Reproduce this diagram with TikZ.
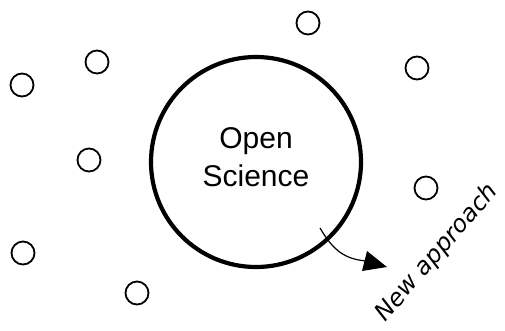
\documentclass[tikz,border=0pt]{standalone}
\usepackage{fontspec}
\setmainfont{Liberation Sans}
\newfontfamily\handfont{DejaVu Sans}
\begin{document}
\begin{tikzpicture}[x=1pt,y=-1pt,
  dot/.style={circle,draw,line width=1.8pt,minimum size=23pt,inner sep=0pt},
  bigc/.style={circle,draw,line width=4.2pt,minimum size=210pt,inner sep=0pt},
  lbl/.style={align=center,font=\fontsize{30}{38}\selectfont},
  hand/.style={font=\handfont\itshape\fontsize{24}{24}\selectfont,rotate=49,inner sep=0pt}]
\useasboundingbox (0,0) rectangle (505,330);
\node[bigc] (os) at (256,162) {};
\node[lbl] (ostext) at (256,157) {Open\\Science};
\node[dot] (d1) at (308,23) {};
\node[dot] (d2) at (97,62) {};
\node[dot] (d3) at (22,85) {};
\node[dot] (d4) at (417,68) {};
\node[dot] (d5) at (89,160) {};
\node[dot] (d6) at (426,188) {};
\node[dot] (d7) at (23,253) {};
\node[dot] (d8) at (137,293) {};
\node[hand] (na) at (437,253) {New approach};
\coordinate (s) at (320,228);
\coordinate (e) at (366,261);
\draw[line width=1.2pt] (s) .. controls (334,252) and (346,259) .. (e);
\fill (367,251) -- (387,267) -- (362,271) -- cycle;
\end{tikzpicture}
\end{document}
